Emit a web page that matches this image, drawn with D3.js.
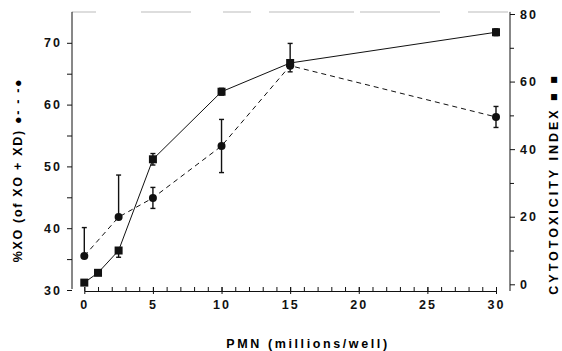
<!DOCTYPE html>
<html>
<head>
<meta charset="utf-8">
<script src="https://cdn.jsdelivr.net/npm/d3@7"></script>
<style>
  body { margin: 0; background: #fff; }
  svg { display: block; font-family: "Liberation Sans", Arial, sans-serif; font-weight: bold; }
  .tick text { font-size: 12.5px; letter-spacing: 2px; fill: #111; }
</style>
</head>
<body>
<svg id="chart" width="562" height="351"></svg>
<script>
// PMN dose (millions/well)
var pmn = [0, 1, 2.5, 5, 10, 15, 30];
var cytotox = [0.5, 3.4, 10, 37, 57, 65.5, 74.6];
var cytoErrUp = [0, 0, 0, 1.7, 1, 0, 1];
var cytoErrDown = [0, 0, 2, 1.7, 1, 0, 1];

var xoPmn = [0, 2.5, 5, 10, 15, 30];
var xo = [35.5, 41.8, 44.9, 53.3, 66.3, 58.0];
var xoErrUp = [4.6, 6.8, 1.7, 4.3, 3.6, 1.7];
var xoErrDown = [0, 0, 1.7, 4.3, 1.0, 1.7];

var xTicks = [0, 5, 10, 15, 20, 25, 30];
var leftTicks = [30, 40, 50, 60, 70];
var rightTicks = [0, 20, 40, 60, 80];

var svg = d3.select("#chart");

var x = d3.scaleLinear().domain([0, 30]).range([84.3, 496]);
var yL = d3.scaleLinear().domain([30, 75]).range([290, 11.9]);
var yR = d3.scaleLinear().domain([0, 80]).range([284.3, 14]);

var axisY = 291;

// top border line (faint and broken, like the scan)
svg.append("line")
  .attr("x1", 72).attr("x2", 510).attr("y1", 12).attr("y2", 12)
  .attr("stroke", "#aaa").attr("stroke-width", 0.8)
  .attr("stroke-dasharray", "24,45,50,32,28,18,85,6,80,28,40");

// left axis
var leftMinor = svg.append("g")
  .attr("transform", "translate(72,0)")
  .call(d3.axisLeft(yL).tickValues([35, 45, 55, 65]).tickSize(5).tickFormat(""));
leftMinor.select(".domain").remove();
var leftAxis = svg.append("g")
  .attr("transform", "translate(72,0)")
  .call(d3.axisLeft(yL).tickValues(leftTicks).tickSize(5).tickSizeOuter(0).tickPadding(5));
leftAxis.select(".domain").attr("d", "M0," + yL(75) + "V" + (axisY - 2));

// right axis
var rightMinor = svg.append("g")
  .attr("transform", "translate(510,0)")
  .call(d3.axisRight(yR).tickValues([10, 30, 50, 70]).tickSize(4).tickFormat(""));
rightMinor.select(".domain").remove();
var rightAxis = svg.append("g")
  .attr("transform", "translate(510,0)")
  .call(d3.axisRight(yR).tickValues(rightTicks).tickSize(5).tickSizeOuter(0).tickPadding(5));
rightAxis.select(".domain").attr("d", "M0," + yL(75) + "V" + axisY);

// x axis: ticks pointing up, minor every unit
var xMinor = svg.append("g")
  .attr("transform", "translate(0," + axisY + ")")
  .call(d3.axisTop(x).tickValues(d3.range(0, 31)).tickSize(4).tickFormat(""));
xMinor.select(".domain").remove();
var xAxis = svg.append("g")
  .attr("transform", "translate(0," + axisY + ")")
  .call(d3.axisBottom(x).tickValues(xTicks).tickSize(0).tickSizeOuter(0).tickPadding(9));
xAxis.selectAll(".tick line").attr("y1", -4).attr("y2", 3);

svg.selectAll(".domain, .tick line").attr("stroke", "#111");

// dashed XO line with circles
var lineXO = d3.line().x(function(d, i) { return x(xoPmn[i]); }).y(function(d) { return yL(d); });
svg.append("path").datum(xo)
  .attr("d", lineXO)
  .attr("fill", "none").attr("stroke", "#111").attr("stroke-width", 1)
  .attr("stroke-dasharray", "5,4");

// solid cytotoxicity line with squares
var lineCy = d3.line().x(function(d, i) { return x(pmn[i]); }).y(function(d) { return yR(d); });
svg.append("path").datum(cytotox)
  .attr("d", lineCy)
  .attr("fill", "none").attr("stroke", "#111").attr("stroke-width", 1);

// error bars
function errBars(xs, ys, up, down, yScale) {
  var g = svg.append("g").attr("stroke", "#111").attr("stroke-width", 1.4);
  ys.forEach(function(v, i) {
    var cx = x(xs[i]);
    var top = yScale(v + up[i]), bot = yScale(v - down[i]);
    if (up[i] === 0 && down[i] === 0) return;
    g.append("line").attr("x1", cx).attr("x2", cx).attr("y1", top).attr("y2", bot);
    if (up[i] > 0) g.append("line").attr("x1", cx - 2.5).attr("x2", cx + 2.5).attr("y1", top).attr("y2", top);
    if (down[i] > 0) g.append("line").attr("x1", cx - 2.5).attr("x2", cx + 2.5).attr("y1", bot).attr("y2", bot);
  });
}
errBars(xoPmn, xo, xoErrUp, xoErrDown, yL);
errBars(pmn, cytotox, cytoErrUp, cytoErrDown, yR);

svg.append("g").selectAll("circle")
  .data(xo).enter().append("circle")
  .attr("cx", function(d, i) { return x(xoPmn[i]); })
  .attr("cy", function(d) { return yL(d); })
  .attr("r", 4).attr("fill", "#111");

svg.append("g").selectAll("rect")
  .data(cytotox).enter().append("rect")
  .attr("x", function(d, i) { return x(pmn[i]) - 4; })
  .attr("y", function(d) { return yR(d) - 4; })
  .attr("width", 8).attr("height", 8).attr("fill", "#111");

// axis titles
svg.append("text")
  .attr("x", 308).attr("y", 348)
  .attr("text-anchor", "middle")
  .style("font-size", "12.5px").style("letter-spacing", "2.6px")
  .text("PMN (millions/well)");

var lt = svg.append("text")
  .attr("transform", "translate(22,170) rotate(-90)")
  .attr("text-anchor", "middle")
  .style("font-size", "12.5px").style("letter-spacing", "1.7px");
lt.append("tspan").text("%XO (of XO + XD) ");
lt.append("tspan").text("\u25CF- - -\u25CF");

var rt = svg.append("text")
  .attr("transform", "translate(558,184) rotate(-90)")
  .attr("text-anchor", "middle")
  .style("font-size", "12.5px").style("letter-spacing", "3px");
rt.append("tspan").text("CYTOTOXICITY INDEX ");
rt.append("tspan").text("\u25A0 \u25A0");
</script>
</body>
</html>
